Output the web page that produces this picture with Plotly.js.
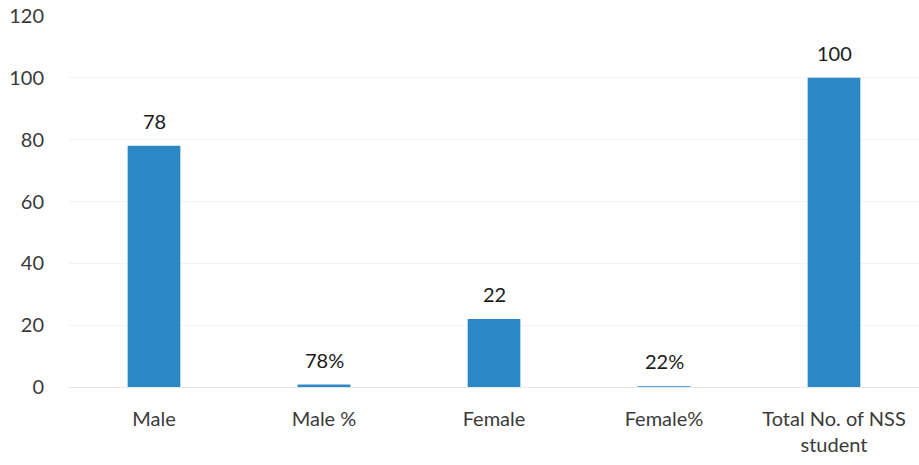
<!DOCTYPE html>
<html>
<head>
<meta charset="utf-8">
<script src="https://cdn.plot.ly/plotly-3.0.1.min.js"></script>
<style>
html,body{margin:0;padding:0;background:#fff;}
#chart{width:919px;height:465px;}
</style>
</head>
<body>
<div id="chart"></div>
<script>
var categories = ["Male", "Male %", "Female", "Female%", "Total No. of NSS<br>student"];
var values = [78, 0.78, 22, 0.22, 100];
var valueLabels = ["78", "78%", "22", "22%", "100"];
var yTicks = [0, 20, 40, 60, 80, 100, 120];

var trace = {
  type: "bar",
  x: categories,
  y: values,
  marker: {color: "#2C88C4", line: {width: 0}},
  hoverinfo: "none"
};

var annotations = categories.map(function (c, i) {
  return {
    x: c, y: values[i], xref: "x", yref: "y",
    text: valueLabels[i], showarrow: false,
    yanchor: "middle", yshift: 25,
    font: {family: "Lato, 'Open Sans', sans-serif", size: 20, color: "#1a1a1a"}
  };
});

var layout = {
  width: 919, height: 465,
  margin: {l: 69, r: 0, t: 16, b: 78},
  paper_bgcolor: "#ffffff",
  plot_bgcolor: "#ffffff",
  showlegend: false,
  bargap: 0.69,
  font: {family: "Lato, 'Open Sans', sans-serif", size: 20, color: "#3a3a3a"},
  xaxis: {
    type: "category",
    showgrid: false,
    showline: false,
    zeroline: false,
    ticks: "outside", ticklen: 14, tickcolor: "rgba(0,0,0,0)",
    tickfont: {size: 20, color: "#3a3a3a"},
    fixedrange: true
  },
  yaxis: {
    range: [0, 120],
    tickvals: yTicks,
    ticktext: yTicks.map(String),
    showgrid: true, gridcolor: "#f3f3f3", gridwidth: 1,
    zeroline: true, zerolinecolor: "#e6e6e6",
    showline: false,
    ticks: "outside", ticklen: 20, tickcolor: "rgba(0,0,0,0)",
    tickfont: {size: 20, color: "#3a3a3a"},
    fixedrange: true
  },
  annotations: annotations
};

Plotly.newPlot("chart", [trace], layout, {displayModeBar: false, staticPlot: true});
</script>
</body>
</html>
